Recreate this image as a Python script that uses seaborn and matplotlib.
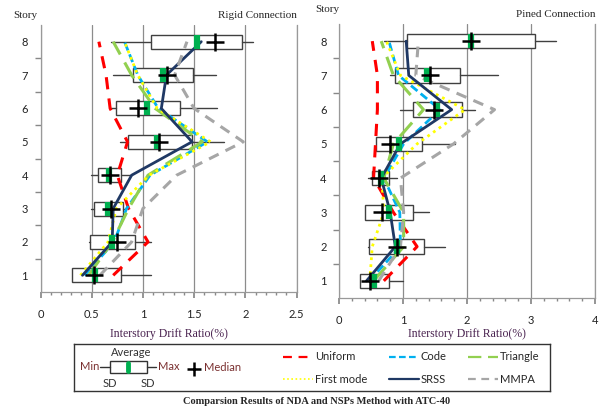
import numpy as np
import pandas as pd
import matplotlib
matplotlib.use("Agg")
import matplotlib.pyplot as plt
from matplotlib.lines import Line2D
from matplotlib.patches import Rectangle
import seaborn as sns

stories = [1, 2, 3, 4, 5, 6, 7, 8]
methods = ["Uniform", "Code", "Triangle", "First mode", "SRSS", "MMPA"]

# rigid connection - NDA statistics (box = mean +/- SD)
r_lo = [0.31, 0.48, 0.52, 0.565, 0.85, 0.74, 0.90, 1.075]
r_hi = [0.79, 0.92, 0.81, 0.79, 1.48, 1.36, 1.49, 1.965]
r_min = [0.31, 0.47, 0.49, 0.49, 0.78, 0.68, 0.71, 0.69]
r_max = [1.08, 1.08, 0.83, 0.89, 1.79, 1.72, 1.71, 2.08]
r_avg = [0.53, 0.70, 0.66, 0.67, 1.14, 1.04, 1.20, 1.53]
r_med = [0.52, 0.75, 0.69, 0.68, 1.16, 0.95, 1.24, 1.70]
# rigid connection - NSPs
r_uniform = [0.71, 1.05, 0.86, 0.75, 0.85, 0.68, 0.64, 0.57]
r_code = [0.43, 0.72, 0.84, 1.07, 1.63, 1.15, 0.95, 0.82]
r_triangle = [0.47, 0.70, 0.86, 1.05, 1.58, 1.12, 0.89, 0.71]
r_first = [0.39, 0.66, 0.74, 1.06, 1.66, 1.14, 0.95, 0.82]
r_srss = [0.41, 0.70, 0.71, 0.89, 1.48, 1.18, 1.23, 1.57]
r_mmpa = [0.58, 0.89, 1.00, 1.33, 1.98, 1.50, 1.31, 1.43]

# pinned connection - NDA statistics
p_lo = [0.33, 0.47, 0.40, 0.51, 0.58, 1.16, 0.88, 1.07]
p_hi = [0.78, 1.33, 1.15, 0.78, 1.30, 1.92, 1.89, 3.06]
p_min = [0.33, 0.45, 0.40, 0.45, 0.58, 0.95, 0.79, 0.70]
p_max = [1.00, 1.66, 1.40, 0.91, 1.81, 2.12, 2.49, 3.39]
p_avg = [0.54, 0.90, 0.78, 0.65, 0.93, 1.53, 1.38, 2.07]
p_med = [0.49, 0.90, 0.67, 0.63, 0.80, 1.48, 1.42, 2.06]
# pinned connection - NSPs
p_uniform = [0.70, 1.22, 0.85, 0.54, 0.57, 0.60, 0.60, 0.52]
p_code = [0.47, 0.96, 0.95, 0.70, 1.01, 1.58, 0.93, 0.78]
p_triangle = [0.54, 1.01, 1.01, 0.70, 0.85, 1.32, 0.85, 0.66]
p_first = [0.48, 0.52, 0.70, 0.67, 1.22, 1.97, 0.96, 0.74]
p_srss = [0.43, 0.88, 0.80, 0.66, 0.96, 1.76, 1.09, 1.05]
p_mmpa = [0.62, 0.96, 1.01, 0.96, 1.79, 2.43, 1.20, 1.24]

styles = {
    "Uniform": dict(color="#ff0000", lw=2.2, ls=(0, (4, 3))),
    "Code": dict(color="#00b0f0", lw=2.0, ls=(0, (3, 1.5))),
    "Triangle": dict(color="#92d050", lw=2.2, ls=(0, (6, 3))),
    "First mode": dict(color="#ffff00", lw=2.0, ls=(0, (1, 1.5))),
    "SRSS": dict(color="#1f3864", lw=2.0, ls="-"),
    "MMPA": dict(color="#a6a6a6", lw=2.2, ls=(0, (3.5, 2.5))),
}

sns.set_theme(style="white")
plt.rcParams["font.family"] = ["Liberation Serif", "DejaVu Serif"]
tickfont = "Lato"
labcol = "#4a2350"

fig = plt.figure(figsize=(6.02, 4.12), dpi=100)
ax1 = fig.add_axes([40.5 / 602, 120 / 412, 256 / 602, 267 / 412])
ax2 = fig.add_axes([339 / 602, 114 / 412, 256 / 602, 274 / 412])


def panel(ax, lo, hi, mn, mx, avg, med, lines, xmax, major, minor, title, lpad):
    stats = [dict(med=m, q1=a, q3=b, whislo=c, whishi=d, fliers=[])
             for m, a, b, c, d in zip(med, lo, hi, mn, mx)]
    ax.bxp(stats, positions=stories, orientation="horizontal", widths=0.42,
           showcaps=False, patch_artist=True, manage_ticks=False,
           boxprops=dict(facecolor="white", edgecolor="#404040", lw=1),
           whiskerprops=dict(color="#404040", lw=1),
           medianprops=dict(lw=0), zorder=2)
    for name, vals in zip(methods, lines):
        st = styles[name]
        df = pd.DataFrame({"drift": vals, "story": stories})
        sns.lineplot(data=df, x="drift", y="story", orient="y", sort=False,
                     estimator=None, ax=ax, color=st["color"], lw=st["lw"],
                     linestyle=st["ls"], zorder=3)
    sns.scatterplot(x=avg, y=stories, ax=ax, marker="|", s=110, linewidth=4.5,
                    color="#00b050", zorder=4)
    sns.scatterplot(x=med, y=stories, ax=ax, marker="+", s=150, linewidth=1.8,
                    color="black", zorder=5)
    ax.set_xlim(0, xmax)
    ax.set_ylim(0.5, 8.5)
    ax.set_xticks(np.arange(0, xmax + 0.01, major))
    ax.set_xticks(np.arange(0, xmax + 0.01, minor), minor=True)
    ax.set_xticklabels([f"{v:g}" for v in np.arange(0, xmax + 0.01, major)],
                       fontfamily=tickfont, fontsize=8, color="#222222")
    ax.set_yticks(stories)
    ax.set_yticklabels([str(s) for s in stories], fontfamily=tickfont,
                       fontsize=8, color="#222222")
    ax.set_yticks(np.arange(1.5, 8.5, 1), minor=True)
    ax.tick_params(axis="y", which="major", length=0, pad=9)
    ax.tick_params(axis="y", which="minor", length=4, color="#888888",
                   direction="out", left=True)
    ax.tick_params(axis="x", which="major", length=4, color="#888888",
                   direction="out", bottom=True, pad=8)
    ax.tick_params(axis="x", which="minor", length=2.5, color="#888888",
                   direction="out", bottom=True)
    ax.grid(True, axis="x", which="major", color="#8c8c8c", lw=0.9)
    ax.grid(False, axis="y")
    for s in ["left", "bottom", "right"]:
        ax.spines[s].set_color("#999999")
        ax.spines[s].set_linewidth(0.9)
    ax.spines["top"].set_visible(False)
    ax.set_xlabel("Interstory Drift Ratio(%)", fontsize=8.5, color=labcol,
                  labelpad=lpad)
    ax.set_ylabel("")
    ax.set_title(title, loc="right", fontsize=8, pad=5)


panel(ax1, r_lo, r_hi, r_min, r_max, r_avg, r_med,
      [r_uniform, r_code, r_triangle, r_first, r_srss, r_mmpa],
      2.5, 0.5, 0.1, "Rigid Connection", 6)
panel(ax2, p_lo, p_hi, p_min, p_max, p_avg, p_med,
      [p_uniform, p_code, p_triangle, p_first, p_srss, p_mmpa],
      4, 1, 0.2, "Pined Connection", 2)

fig.text(13 / 602, 1 - 16 / 412, "Story", fontsize=8, ha="left", va="center")
fig.text(315 / 602, 1 - 9 / 412, "Story", fontsize=8, ha="left", va="center")

# legend frame
lax = fig.add_axes([74 / 602, 1 - 391 / 412, 476 / 602, 47 / 412])
lax.set_xlim(74, 550)
lax.set_ylim(391, 344)
lax.set_xticks([])
lax.set_yticks([])
for s in lax.spines.values():
    s.set_color("#333333")
    s.set_linewidth(1)
lax.set_facecolor("white")
sf = dict(fontfamily=tickfont, fontsize=8)
lax.add_patch(Rectangle((110, 361), 37, 12, fc="white", ec="#333333", lw=1))
lax.plot([100, 110], [367, 367], color="#333333", lw=1)
lax.plot([147, 156], [367, 367], color="#333333", lw=1)
lax.plot([128, 128], [363, 371], color="#00b050", lw=3.5)
lax.text(131, 352.5, "Average", ha="center", va="center", color="#333333", **sf)
lax.text(99, 366, "Min", ha="right", va="center", color="#7a3030", **sf)
lax.text(158, 366, "Max", ha="left", va="center", color="#7a3030", **sf)
lax.text(110, 383, "SD", ha="center", va="center", color="#333333", **sf)
lax.text(148, 383, "SD", ha="center", va="center", color="#333333", **sf)
lax.plot([194], [369], marker="+", ms=10, mew=1.8, color="black")
lax.text(204, 367.5, "Median", ha="left", va="center", color="#7a3030", **sf)

order = ["Uniform", "First mode", "Code", "SRSS", "Triangle", "MMPA"]
handles = [Line2D([], [], color=styles[m]["color"], lw=1.6 if m != "First mode" else 1.2,
                  linestyle=styles[m]["ls"]) for m in order]
fig.legend(handles, order, ncol=3, loc="center left",
           bbox_to_anchor=(283 / 602, 1 - 368 / 412), frameon=False,
           borderpad=0, borderaxespad=0,
           prop=dict(family=tickfont, size=8), handlelength=2.7,
           handletextpad=0.2, columnspacing=1.9, labelspacing=1.0)

fig.text(317 / 602, 1 - 402 / 412,
         "Comparsion Results of NDA and NSPs Method with ATC-40",
         ha="center", va="center", fontsize=7.5, fontweight="bold")

fig.savefig("out.png", dpi=100)
